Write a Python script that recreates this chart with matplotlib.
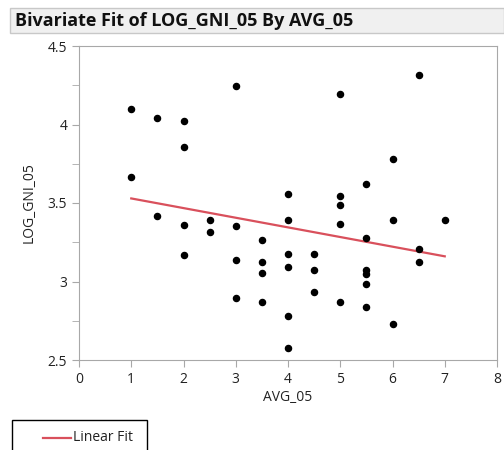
import numpy as np
import matplotlib.pyplot as plt
from matplotlib.patches import Rectangle
from matplotlib.lines import Line2D

plt.rcParams['font.family'] = ['Open Sans', 'DejaVu Sans']

# data
avg_05 = [1, 1, 1.5, 1.5, 2, 2, 2, 2, 2.5, 2.5,
          3, 3, 3, 3, 3.5, 3.5, 3.5, 3.5,
          4, 4, 4, 4, 4, 4, 4.5, 4.5, 4.5,
          5, 5, 5, 5, 5, 5.5, 5.5, 5.5, 5.5, 5.5, 5.5,
          6, 6, 6, 6.5, 6.5, 6.5, 7]
log_gni_05 = [4.10, 3.665, 4.04, 3.415, 4.02, 3.856, 3.36, 3.168, 3.389, 3.317,
              4.246, 3.353, 3.139, 2.897, 3.262, 3.122, 3.056, 2.868,
              3.559, 3.389, 3.177, 3.092, 2.782, 2.575, 3.177, 3.075, 2.931,
              4.195, 3.542, 3.487, 3.364, 2.872, 3.618, 3.279, 3.071, 3.046, 2.986, 2.838,
              3.779, 3.393, 2.728, 4.316, 3.207, 3.122, 3.393]
x_ticks = [0, 1, 2, 3, 4, 5, 6, 7, 8]
y_ticks = [2.5, 3, 3.5, 4, 4.5]
y_labels = ['2.5', '3', '3.5', '4', '4.5']

fig = plt.figure(figsize=(5.04, 4.5), dpi=100)
W, H = 504, 450

# title bar
fig.patches.append(Rectangle((10 / W, 1 - 33 / H), 494 / W, 25 / H, transform=fig.transFigure,
                             facecolor='#f0f0f0', edgecolor='#c8c8c8', lw=1))
fig.text(15 / W, 1 - 21 / H, 'Bivariate Fit of LOG_GNI_05 By AVG_05', fontsize=13,
         fontweight='bold', va='center', ha='left', color='#111111')

ax = fig.add_axes([79 / W, 1 - 360 / H, 418 / W, 314 / H])
ax.plot(avg_05, log_gni_05, 'o', color='black', markersize=4.4, zorder=3)

slope, icpt = np.polyfit(avg_05, log_gni_05, 1)
xf = np.array([min(avg_05), max(avg_05)])
ax.plot(xf, icpt + slope * xf, color='#d9505c', lw=1.6, zorder=2)

ax.set_xlim(0, 8)
ax.set_ylim(2.5, 4.5)
ax.set_xticks(x_ticks)
ax.set_yticks(y_ticks)
ax.set_yticklabels(y_labels)
ax.set_yticks(np.arange(2.75, 4.5, 0.5), minor=True)
for s in ax.spines.values():
    s.set_color('#a8a8a8')
ax.tick_params(which='both', colors='#a8a8a8', labelcolor='#222222', labelsize=10, length=5)
ax.set_xlabel('AVG_05', fontsize=10, color='#222222', labelpad=2)
ax.set_ylabel('LOG_GNI_05', fontsize=10, color='#222222', labelpad=8)

# legend box
fig.patches.append(Rectangle((12 / W, -10 / H), 135 / W, 40 / H, transform=fig.transFigure,
                             facecolor='white', edgecolor='black', lw=1))
fig.lines.append(Line2D([43 / W, 71 / W], [1 - 437.5 / H] * 2, transform=fig.transFigure,
                        color='#d9505c', lw=1.6))
fig.text(73 / W, 1 - 437.5 / H, 'Linear Fit', fontsize=10, va='center', ha='left', color='#222222')

fig.savefig('out.png', dpi=100)
